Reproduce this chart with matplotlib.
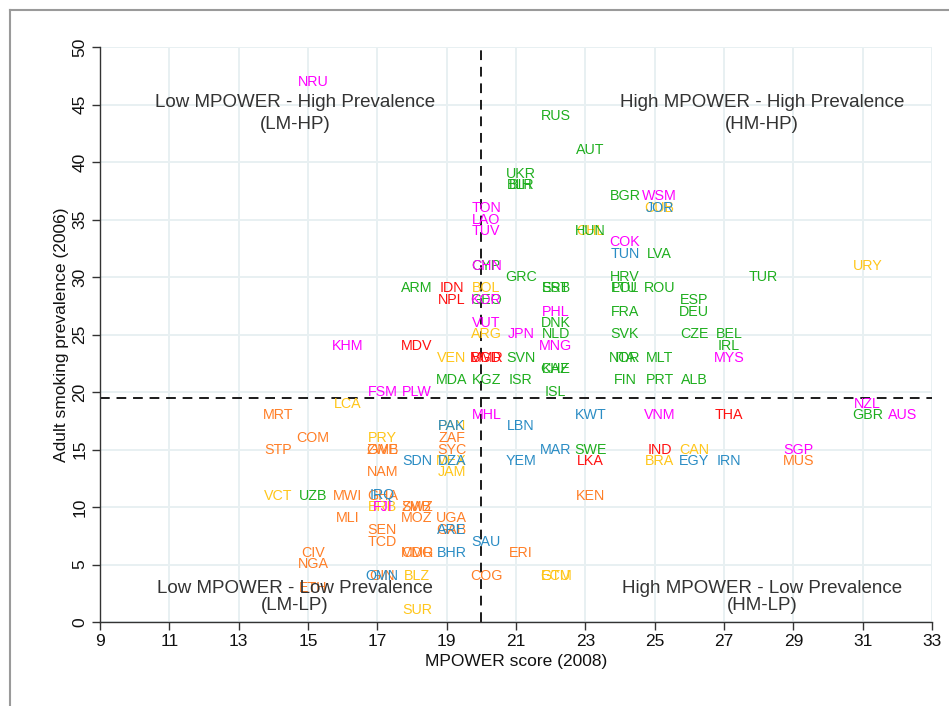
import matplotlib.pyplot as plt
from matplotlib.lines import Line2D

plt.rcParams['font.family'] = ['Liberation Sans', 'DejaVu Sans']

# country codes with MPOWER score (2008) and adult smoking prevalence (2006), by region colour
eur_codes = ['RUS', 'AUT', 'UKR', 'BLR', 'BIH', 'BGR', 'HUN', 'LVA', 'GRC', 'HRV', 'TUR',
             'ARM', 'SRB', 'EST', 'POL', 'LTU', 'ROU', 'GEO', 'ESP', 'FRA', 'DEU', 'DNK',
             'NLD', 'SVK', 'CZE', 'BEL', 'IRL', 'SVN', 'NOR', 'ITA', 'MLT', 'KAZ', 'CHE',
             'MDA', 'KGZ', 'ISR', 'FIN', 'PRT', 'ALB', 'ISL', 'GBR', 'SWE', 'UZB', 'CYP']
eur_score = [22, 23, 21, 21, 21, 24, 23, 25, 21, 24, 28,
             18, 22, 22, 24, 24, 25, 20, 26, 24, 26, 22,
             22, 24, 26, 27, 27, 21, 24, 24, 25, 22, 22,
             19, 20, 21, 24, 25, 26, 22, 31, 23, 15, 20]
eur_prev = [44, 41, 39, 38, 38, 37, 34, 32, 30, 30, 30,
            29, 29, 29, 29, 29, 29, 28, 28, 27, 27, 26,
            25, 25, 25, 25, 24, 23, 23, 23, 23, 22, 22,
            21, 21, 21, 21, 21, 21, 20, 18, 15, 11, 31]

wpr_codes = ['NRU', 'TON', 'LAO', 'TUV', 'WSM', 'COK', 'CHN', 'KOR', 'VUT', 'JPN', 'PHL',
             'MNG', 'KHM', 'MYS', 'FSM', 'PLW', 'MHL', 'NZL', 'AUS', 'VNM', 'SGP', 'FJI']
wpr_score = [15, 20, 20, 20, 25, 24, 20, 20, 20, 21, 22,
             22, 16, 27, 17, 18, 20, 31, 32, 25, 29, 17]
wpr_prev = [47, 36, 35, 34, 37, 33, 31, 28, 26, 25, 27,
            24, 24, 23, 20, 20, 18, 19, 18, 18, 15, 10]

sear_codes = ['IDN', 'NPL', 'MDV', 'BGD', 'MMR', 'THA', 'IND', 'LKA']
sear_score = [19, 19, 18, 20, 20, 27, 25, 23]
sear_prev = [29, 28, 24, 23, 23, 18, 15, 14]

emr_codes = ['JOR', 'TUN', 'KWT', 'LBN', 'PAK', 'MAR', 'YEM', 'EGY', 'IRN', 'SDN', 'DZA',
             'IRQ', 'ARE', 'SAU', 'BHR', 'OMN']
emr_score = [25, 24, 23, 21, 19, 22, 21, 26, 27, 18, 19, 17, 19, 20, 19, 17]
emr_prev = [36, 32, 18, 17, 17, 15, 14, 14, 14, 14, 14, 11, 8, 7, 6, 4]

amr_codes = ['CUB', 'CHL', 'URY', 'BOL', 'ARG', 'VEN', 'LCA', 'PAN', 'PRY', 'CAN', 'BRA',
             'MEX', 'JAM', 'VCT', 'BRB', 'BLZ', 'ECU', 'GTM', 'SUR']
amr_score = [25, 23, 31, 20, 20, 19, 16, 19, 17, 26, 25, 19, 19, 14, 17, 18, 22, 22, 18]
amr_prev = [36, 34, 31, 29, 25, 23, 19, 17, 16, 15, 14, 14, 13, 11, 10, 4, 4, 4, 1]

afr_codes = ['MRT', 'COM', 'ZAF', 'STP', 'GMB', 'ZWE', 'SYC', 'NAM', 'MWI', 'GHA', 'SWZ',
             'ZMB', 'KEN', 'MUS', 'MLI', 'MOZ', 'UGA', 'SEN', 'GAB', 'TCD', 'CMR', 'MDG',
             'ERI', 'CIV', 'NGA', 'GIN', 'COG', 'ETH']
afr_score = [14, 15, 19, 14, 17, 17, 19, 17, 16, 17, 18,
             18, 23, 29, 16, 18, 19, 17, 19, 17, 18, 18,
             21, 15, 15, 17, 20, 15]
afr_prev = [18, 16, 16, 15, 15, 15, 15, 13, 11, 11, 10,
            10, 11, 14, 9, 9, 9, 8, 8, 7, 6, 6,
            6, 6, 5, 4, 4, 3]

mean_score = 20
mean_prev = 19.5

groups = [
    (afr_codes, afr_score, afr_prev, '#ff7f27'),
    (amr_codes, amr_score, amr_prev, '#ffc61a'),
    (emr_codes, emr_score, emr_prev, '#2a8cc4'),
    (eur_codes, eur_score, eur_prev, '#1eae1e'),
    (sear_codes, sear_score, sear_prev, '#ff1010'),
    (wpr_codes, wpr_score, wpr_prev, '#ff00ff'),
]

fig = plt.figure(figsize=(9.49, 7.06), dpi=100)
ax = fig.add_axes([100 / 949, 1 - 622 / 706, 832 / 949, 575 / 706])
ax.set_xlim(9, 33)
ax.set_ylim(0, 50)
ax.set_xticks(range(9, 34, 2))
ax.set_yticks(range(0, 51, 5))
ax.grid(color='#e8f0f2', lw=1.4)
ax.set_axisbelow(True)
for s in ['top', 'right']:
    ax.spines[s].set_visible(False)
for s in ['left', 'bottom']:
    ax.spines[s].set_color('#333333')
    ax.spines[s].set_linewidth(1.0)
ax.tick_params(direction='out', length=6, width=1, color='#333333',
               labelsize=12.5, labelcolor='#111111', pad=3)
plt.setp(ax.get_yticklabels(), rotation=90, va='center')

ax.axvline(mean_score, color='#1a1a1a', lw=1.4, ls=(0, (5, 3.5)), zorder=2)
ax.axhline(mean_prev, color='#1a1a1a', lw=1.4, ls=(0, (5, 3.5)), zorder=2)

for codes, xs, ys, col in groups:
    for c, x, y in zip(codes, xs, ys):
        ax.annotate(c, (x, y), xytext=(3.6, 0), textcoords='offset points',
                    ha='center', va='center', color=col, fontsize=10.3,
                    annotation_clip=False, zorder=3)

quad = [
    (14.62, 45.15, 'Low MPOWER - High Prevalence'), (14.62, 43.25, '(LM-HP)'),
    (28.1, 45.15, 'High MPOWER - High Prevalence'), (28.1, 43.25, '(HM-HP)'),
    (14.62, 2.95, 'Low MPOWER - Low Prevalence'), (14.62, 1.4, '(LM-LP)'),
    (28.1, 2.95, 'High MPOWER - Low Prevalence'), (28.1, 1.4, '(HM-LP)'),
]
for x, y, t in quad:
    ax.text(x, y, t, ha='center', va='center', fontsize=13.5, color='#333333', zorder=4)

ax.set_xlabel('MPOWER score (2008)', fontsize=12.5, color='#111111')
ax.set_ylabel('Adult smoking prevalence (2006)', fontsize=12.5, color='#111111')
ax.xaxis.set_label_coords(0.5, -0.055)
ax.yaxis.set_label_coords(-0.037, 0.5)

# outer frame (left and top edges visible in the original)
fig.add_artist(Line2D([10 / 949, 10 / 949], [0, 1 - 10 / 706], transform=fig.transFigure,
                      color='#9a9a9a', lw=1.5))
fig.add_artist(Line2D([10 / 949, 1], [1 - 10 / 706, 1 - 10 / 706], transform=fig.transFigure,
                      color='#9a9a9a', lw=1.5))

fig.savefig('out.png', dpi=100)
